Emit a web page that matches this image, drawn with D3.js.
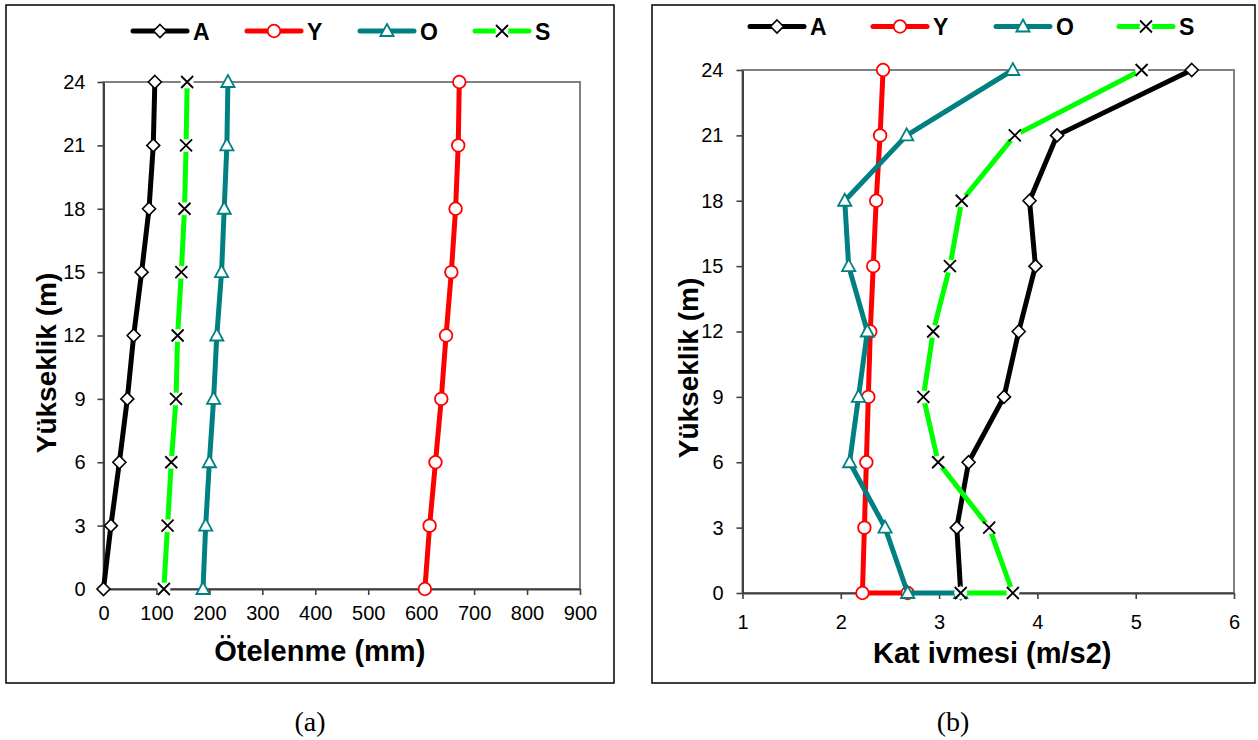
<!DOCTYPE html>
<html><head><meta charset="utf-8">
<script src="https://cdn.jsdelivr.net/npm/d3@7/dist/d3.min.js"></script>
<style>body{margin:0;background:#fff}svg{display:block}</style>
</head><body>
<svg id="c" width="1258" height="740"></svg>
<script>
// ---------- data ----------
const heights = [0, 3, 6, 9, 12, 15, 18, 21, 24];
const seriesNames = ["A", "Y", "O", "S"];
const seriesColors = ["#000000", "#FF0000", "#008080", "#00FF00"];

// panel (a): Ötelenme (mm)
const driftA = [0, 14, 30, 45, 57, 72, 86, 94, 97];
const driftY = [607, 616, 627, 638, 647, 657, 665, 670, 672];
const driftO = [188, 193, 200, 208, 214, 223, 228, 233, 235];
const driftS = [114, 121, 128, 137, 140, 147, 153, 156, 158];

// panel (b): Kat ivmesi (m/s2)
const accA = [3.22, 3.18, 3.30, 3.66, 3.81, 3.98, 3.92, 4.20, 5.57];
const accY = [2.22, 2.24, 2.26, 2.28, 2.30, 2.33, 2.36, 2.40, 2.43];
const accO = [2.68, 2.45, 2.09, 2.18, 2.27, 2.08, 2.04, 2.67, 3.75];
const accS = [3.75, 3.51, 2.99, 2.84, 2.94, 3.11, 3.23, 3.77, 5.06];
// extra point at height 0 that each series of panel (b) starts from
const accBaseExtra = [null, 2.68, 3.22, 3.22];

const yTickValues = [0, 3, 6, 9, 12, 15, 18, 21, 24];
const xTicksDrift = [0, 100, 200, 300, 400, 500, 600, 700, 800, 900];
const xTicksAcc = [1, 2, 3, 4, 5, 6];

const yTitle = "Yükseklik (m)";
const xTitleDrift = "Ötelenme (mm)";
const xTitleAcc = "Kat ivmesi (m/s2)";
const captions = ["(a)", "(b)"];

// ---------- drawing ----------
const svg = d3.select("#c");
const SANS = "'Liberation Sans', Arial, sans-serif";

function drawMarker(g, idx, x, y) {
  const t = `translate(${x},${y})`;
  if (idx === 0) {
    g.append("path").attr("d", "M0,-6.5L6.5,0L0,6.5L-6.5,0Z").attr("transform", t)
      .attr("fill", "#fff").attr("stroke", "#000").attr("stroke-width", 1.6);
  } else if (idx === 1) {
    g.append("circle").attr("cx", x).attr("cy", y).attr("r", 6.3)
      .attr("fill", "#fff").attr("stroke", "#FF0000").attr("stroke-width", 1.8);
  } else if (idx === 2) {
    g.append("path").attr("d", "M0,-7L6.6,5L-6.6,5Z").attr("transform", t)
      .attr("fill", "#fff").attr("stroke", "#008080").attr("stroke-width", 1.8);
  } else {
    g.append("circle").attr("cx", x).attr("cy", y).attr("r", 6.5).attr("fill", "#fff");
    g.append("path").attr("d", "M-6,-6L6,6M-6,6L6,-6").attr("transform", t)
      .attr("fill", "none").attr("stroke", "#000").attr("stroke-width", 1.8);
  }
}

function panel(cfg) {
  const g = svg.append("g");
  // outer frame
  g.append("rect").attr("x", cfg.box[0]).attr("y", cfg.box[1])
    .attr("width", cfg.box[2] - cfg.box[0]).attr("height", cfg.box[3] - cfg.box[1])
    .attr("fill", "none").attr("stroke", "#000").attr("stroke-width", 1.5);

  const x = d3.scaleLinear().domain(cfg.xDomain).range(cfg.xRange);
  const y = d3.scaleLinear().domain([0, 24]).range(cfg.yRange);

  // plot area border
  g.append("rect").attr("x", cfg.xRange[0]).attr("y", cfg.yRange[1])
    .attr("width", cfg.xRange[1] - cfg.xRange[0]).attr("height", cfg.yRange[0] - cfg.yRange[1])
    .attr("fill", "none").attr("stroke", "#808080").attr("stroke-width", 2);

  const gx = g.append("g").attr("transform", `translate(0,${cfg.yRange[0]})`)
    .call(d3.axisBottom(x).tickValues(cfg.xTicks).tickFormat(d3.format("d"))
      .tickSize(6).tickSizeOuter(0).tickPadding(cfg.xPad));
  const gy = g.append("g").attr("transform", `translate(${cfg.xRange[0]},0)`)
    .call(d3.axisLeft(y).tickValues(yTickValues).tickFormat(d3.format("d"))
      .tickSize(6).tickSizeOuter(0).tickPadding(cfg.yPad));
  [gx, gy].forEach(a => {
    a.select(".domain").attr("stroke", "#404040").attr("stroke-width", 2);
    a.selectAll(".tick line").attr("stroke", "#404040").attr("stroke-width", 1.6);
    a.selectAll(".tick text").attr("font-family", SANS).attr("font-size", 20).attr("fill", "#000");
  });

  const line = d3.line().x(d => x(d.v)).y(d => y(d.h));
  cfg.series.forEach((vals, i) => {
    const extra = cfg.extra ? cfg.extra[i] : null;
    const pts = (extra != null ? [{ v: extra, h: 0 }] : [])
      .concat(heights.map((h, k) => ({ v: vals[k], h })));
    const sg = g.append("g");
    sg.append("path").datum(pts).attr("d", line).attr("fill", "none")
      .attr("stroke", seriesColors[i]).attr("stroke-width", 5).attr("stroke-linejoin", "round");
    pts.forEach(p => drawMarker(sg, i, x(p.v), y(p.h)));
  });

  // legend
  seriesNames.forEach((n, i) => {
    const lx = cfg.legendX[i], ly = cfg.legendY, lw = 54;
    g.append("line").attr("x1", lx).attr("x2", lx + lw).attr("y1", ly).attr("y2", ly)
      .attr("stroke", seriesColors[i]).attr("stroke-width", 5).attr("stroke-linecap", "round");
    drawMarker(g, i, lx + lw / 2, ly);
    g.append("text").attr("x", lx + lw + 6).attr("y", ly + 8.5).text(n)
      .attr("font-family", SANS).attr("font-weight", "bold").attr("font-size", 23);
  });

  // titles
  g.append("text").attr("x", (cfg.xRange[0] + cfg.xRange[1]) / 2 + cfg.xTitleDx).attr("y", cfg.xTitleY)
    .attr("text-anchor", "middle").attr("font-family", SANS).attr("font-weight", "bold")
    .attr("font-size", 29).text(cfg.xTitle);
  g.append("text").attr("transform", `translate(${cfg.yTitleX},${cfg.yTitleCY}) rotate(-90)`)
    .attr("text-anchor", "middle").attr("font-family", SANS).attr("font-weight", "bold")
    .attr("font-size", 28).text(yTitle);

  g.append("text").attr("x", cfg.capX).attr("y", 731).attr("text-anchor", "middle")
    .attr("font-family", "'Liberation Serif', 'Times New Roman', serif").attr("font-size", 28)
    .text(cfg.caption);
}

panel({
  box: [6, 5, 614, 683],
  xDomain: [0, 900], xRange: [103.5, 580], yRange: [589, 82],
  xTicks: xTicksDrift, xPad: 11, yPad: 12,
  series: [driftA, driftY, driftO, driftS], extra: null,
  legendX: [133, 247, 360, 475], legendY: 31,
  xTitle: xTitleDrift, xTitleY: 661, xTitleDx: -22,
  yTitleX: 56, yTitleCY: 363,
  caption: captions[0], capX: 310
});
panel({
  box: [652, 5, 1255, 683],
  xDomain: [1, 6], xRange: [742.5, 1234], yRange: [593, 70],
  xTicks: xTicksAcc, xPad: 16, yPad: 13,
  series: [accA, accY, accO, accS], extra: accBaseExtra,
  legendX: [750, 873, 996, 1119], legendY: 26.5,
  xTitle: xTitleAcc, xTitleY: 663, xTitleDx: 4,
  yTitleX: 698, yTitleCY: 368,
  caption: captions[1], capX: 953
});
</script>
</body></html>
